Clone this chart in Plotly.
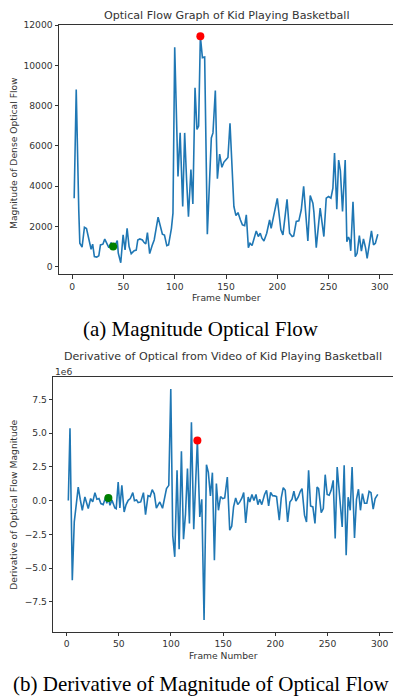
import plotly.graph_objects as go

# ---------------- data ----------------
mag_frames = [2, 4, 6.5, 7.5, 9.7, 12, 14, 16.6, 18.5, 20, 21.7, 24, 26, 27.6, 30, 31.8, 33.5, 35.8,
              38, 40, 42, 44, 45, 47.4, 49.7, 51.6, 53.6, 55.5, 57.6, 60.5, 62.5, 64, 66, 68.5, 70.2,
              71.8, 73.4, 75.6, 78, 80, 83.8, 86, 88, 90, 92.3, 94, 96.8, 98.3, 100, 103.2, 105.3,
              107.8, 109.7, 111.6, 113.4, 115.8, 117.7, 119.8, 121.7, 123.3, 125, 127, 129.2, 131.8,
              133.8, 135.7, 137.3, 139.6, 141.6, 143.8, 146, 148, 150, 151.9, 153.9, 157.7, 159.7,
              161.7, 164, 166, 168.2, 169.8, 171.8, 173.4, 175.4, 177.2, 179.5, 181.5, 183.4, 185,
              187, 189.7, 192.5, 194, 197.4, 200, 203.5, 205.5, 209.5, 212, 214.5, 216, 218.5, 221,
              223.4, 225.7, 229.8, 232.1, 234.7, 235.7, 238, 241.8, 245.4, 247.7, 250, 252.3, 254.2,
              255.8, 258, 259.8, 261.5, 263.6, 266.2, 267.8, 269.4, 270.6, 271.6, 273.8, 276, 277.8,
              280, 282, 284, 286, 287.6, 289.9, 291.8, 293.8, 295.6, 298]
mag_values = [3400, 8800, 2750, 1170, 970, 1960, 1900, 1330, 870, 1120, 500, 480, 540, 1080, 1120,
              1370, 1170, 950, 1200, 1000, 1080, 1300, 670, 200, 1580, 830, 1910, 1000, 650, 800, 830,
              1330, 1380, 1330, 1200, 1130, 1700, 650, 1050, 1330, 2460, 2000, 1620, 1570, 1050, 1080,
              1910, 2660, 10900, 4490, 6650, 2990, 6650, 4300, 2490, 4830, 3120, 8890, 6820, 6990,
              11450, 10390, 10420, 1610, 4000, 6400, 6650, 8760, 4370, 5600, 4940, 5200, 5320, 5430,
              7130, 2990, 2540, 2690, 2330, 2080, 2040, 2580, 950, 1165, 1050, 1415, 1780, 1500, 1665,
              1415, 1280, 1665, 2330, 1910, 2830, 3400, 1830, 1580, 3350, 1665, 1500, 1530, 2250,
              2280, 2830, 3990, 1280, 3540, 3160, 2710, 950, 2910, 1500, 3410, 3490, 3410, 3900, 5650,
              2860, 5300, 4770, 2750, 5300, 1245, 1480, 1330, 790, 3230, 500, 665, 1550, 780, 1380,
              950, 420, 1165, 1780, 1085, 1165, 1615]

der_frames = [1.6, 3.2, 5.4, 7.3, 9.2, 11.1, 13, 15, 17.5, 19, 20.7, 23, 25, 27.1, 29, 31, 32.8,
              35, 37.3, 38.5, 40, 41.5, 43.4, 46.2, 47.5, 49.4, 51, 52.9, 55.1, 57, 59, 61, 63.4, 65,
              67, 68.5, 71, 73.6, 75.6, 78, 80, 82, 84, 86, 88, 89.3, 91.9, 93.8, 95.7, 97.9, 99.8,
              101.7, 103.6, 105.8, 107.8, 110, 112, 113.9, 115.8, 117.7, 119.6, 121.8, 123.5, 125.3,
              127.6, 129.5, 131.7, 134, 135.8, 137.8, 139.7, 141.6, 143.5, 145.5, 147.5, 149.5,
              151.5, 154, 156.3, 158.2, 160, 162, 164, 166, 168, 169.7, 171.6, 174, 175.5, 177.6,
              179.5, 181.5, 183.3, 185, 187, 189.7, 191.6, 193.6, 195.5, 197.4, 199.3, 201.2, 203.8,
              205.7, 207.6, 209.5, 211.8, 214, 216, 217.8, 219.7, 222, 224, 225.6, 228, 229.9, 231.9,
              233.8, 236, 238, 240, 241.5, 244, 246, 247.8, 249.7, 251.6, 253.5, 255.5, 257.4, 259.3,
              261.5, 264.1, 266, 267.9, 269.8, 271.8, 273.6, 275.9, 277.8, 279.7, 281.6, 283.5,
              285.5, 287.7, 289.9, 291.7, 293.8, 295.7, 298.2]
der_values = [0.0, 5.37, -5.9, -1.58, -0.3, 1.0, 0.1, -0.72, 0.27, -0.2, -0.59, 0.15, -0.1, 0.59,
              0.1, 0.15, -0.22, -0.3, 0.24, -0.2, 0.19, -0.35, 0.05, -0.55, -0.6, 1.38, -0.55, 1.13,
              -0.84, -0.3, 0.02, 0.15, 0.59, 0.0, 0.05, -0.15, -0.1, 0.59, -1.04, 0.37, 0.3, 0.81,
              0.5, -0.55, -0.2, -0.1, -0.57, 0.3, 0.89, 1.13, 8.28, -2.6, -4.17, 2.24, -3.6, 3.65,
              -2.86, -1.0, 2.37, -1.7, 5.81, -2.12, 1.5, 4.46, -1.21, 0.1, -8.85, 2.66, 2.1, 0.34,
              2.07, -4.42, 1.26, -0.72, 0.3, 0.15, 0.2, 1.75, -2.2, -1.9, -0.47, 0.2, -0.3, -0.1, 0.2,
              0.59, -1.66, 0.26, -0.1, 0.45, 0.0, 0.45, -0.3, 0.1, -0.3, 0.45, 0.75, -0.4, 0.6, 0.36,
              0.35, 0.3, -1.46, 0.2, 0.96, 0.76, -1.58, -0.1, 0.1, 0.69, -0.03, 0.27, 0.69, 0.89,
              -1.08, -1.58, 2.24, -0.4, -0.47, -1.7, 1.0, 0.89, -0.89, -0.59, 1.92, 0.45, 0.4, 0.76,
              1.5, -2.81, 2.49, 0.25, -1.95, 2.61, -4.05, 0.25, -0.72, 2.49, -2.77, 0.1, 0.84, -0.72,
              0.52, -0.2, -0.2, 0.69, 0.59, -0.64, 0.15, 0.46]

mag_max_point = (125, 11450)
mag_min_point = (40, 1000)
der_max_point = (125.3, 4.46)
der_min_point = (40, 0.19)

x_ticks = [0, 50, 100, 150, 200, 250, 300]
mag_ticks = [0, 2000, 4000, 6000, 8000, 10000, 12000]
der_ticks = [-7.5, -5.0, -2.5, 0.0, 2.5, 5.0, 7.5]

# ---------------- figure ----------------
W, H = 393, 696
def px(x):
    return x / W
def py(y):
    return 1 - y / H

LINE = "#1f77b4"
AX = "#333333"
FONT = "DejaVu Sans"
TICK = 9.2

fig = go.Figure()
fig.add_trace(go.Scatter(x=mag_frames, y=mag_values, mode="lines",
                         line=dict(color=LINE, width=1.6), xaxis="x", yaxis="y",
                         showlegend=False, hoverinfo="skip"))
fig.add_trace(go.Scatter(x=[mag_max_point[0]], y=[mag_max_point[1]], mode="markers",
                         marker=dict(color="red", size=8), xaxis="x", yaxis="y", showlegend=False))
fig.add_trace(go.Scatter(x=[mag_min_point[0]], y=[mag_min_point[1]], mode="markers",
                         marker=dict(color="green", size=8), xaxis="x", yaxis="y", showlegend=False))

fig.add_trace(go.Scatter(x=der_frames, y=der_values, mode="lines",
                         line=dict(color=LINE, width=1.6), xaxis="x2", yaxis="y2",
                         showlegend=False, hoverinfo="skip"))
fig.add_trace(go.Scatter(x=[der_max_point[0]], y=[der_max_point[1]], mode="markers",
                         marker=dict(color="red", size=8), xaxis="x2", yaxis="y2", showlegend=False))
fig.add_trace(go.Scatter(x=[der_min_point[0]], y=[der_min_point[1]], mode="markers",
                         marker=dict(color="green", size=8), xaxis="x2", yaxis="y2", showlegend=False))

common_axis = dict(showgrid=False, zeroline=False, showline=True, linecolor=AX, linewidth=1,
                   ticks="outside", ticklen=3.5, tickwidth=0.8, tickcolor=AX, automargin=False,
                   tickfont=dict(family=FONT, size=TICK, color=AX))

fig.update_layout(
    width=W, height=H, autosize=False,
    margin=dict(l=0, r=0, t=0, b=0, pad=0, autoexpand=False),
    paper_bgcolor="white", plot_bgcolor="white",
    xaxis=dict(domain=[px(59), 1.0], range=[-12.8, 312.8], anchor="y", mirror=True,
               tickvals=x_ticks, **common_axis),
    yaxis=dict(domain=[py(274), py(25)], range=[-362, 12012], anchor="x",
               tickvals=mag_ticks, ticktext=[str(v) for v in mag_ticks], **common_axis),
    xaxis2=dict(domain=[px(53.3), 1.0], range=[-12.8, 312.8], anchor="y2", mirror=True,
                tickvals=x_ticks, **common_axis),
    yaxis2=dict(domain=[py(631.7), py(377.3)], range=[-9.72, 9.14], anchor="x2",
                tickvals=der_ticks, ticktext=[f"{v:.1f}".replace("-", "\u2212") for v in der_ticks],
                **common_axis),
)

def ann(text, x, y, size, family=FONT, color=AX, angle=0, xanchor="center"):
    fig.add_annotation(text=text, x=px(x), y=py(y), xref="paper", yref="paper",
                       showarrow=False, textangle=angle, xanchor=xanchor, yanchor="middle",
                       font=dict(family=family, size=size, color=color))

# titles
ann("Optical Flow Graph of Kid Playing Basketball", 226, 15.7, 11.1)
ann("Derivative of Optical from Video of Kid Playing Basketball", 223, 356.7, 11.1)
ann("1e6", 53.3, 371.7, TICK, xanchor="left")
# axis labels
ann("Frame Number", 226, 297.3, TICK)
ann("Frame Number", 223, 655.3, TICK)
ann("Magnitude of Dense Optical Flow", 13.3, 152.7, TICK, angle=-90)
ann("Derivative of Optical Flow Magnitude", 13.3, 504.5, TICK, angle=-90)
# captions
ann("(a) Magnitude Optical Flow", 201, 329, 21, family="Liberation Serif", color="black")
ann("(b) Derivative of Magnitude of Optical Flow", 201.5, 684, 21, family="Liberation Serif",
    color="black")

fig.write_html(
    "out.html",
    config={"displayModeBar": False},
    post_script="document.body.style.margin='0';document.body.style.padding='0';"
                "document.body.style.overflow='hidden';",
)
